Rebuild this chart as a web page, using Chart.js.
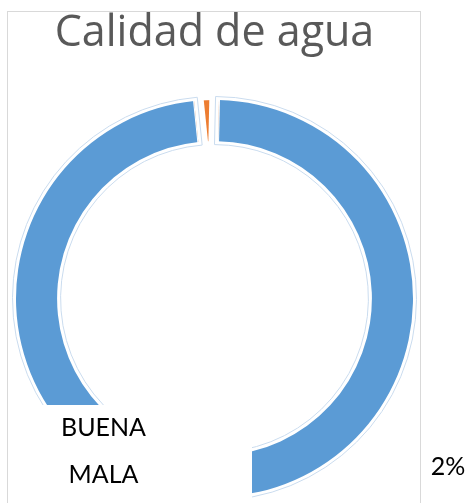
<!DOCTYPE html>
<html><head><meta charset="utf-8">
<script src="https://cdn.jsdelivr.net/npm/chart.js@4/dist/chart.umd.min.js"></script>
<style>html,body{margin:0;padding:0;background:#fff;overflow:hidden}canvas{display:block}</style>
</head><body>
<canvas id="c" width="469" height="503"></canvas>
<script>
// ---- data ----
const titleText = 'Calidad de agua';
const categories = ['BUENA', 'MALA'];
const values = [98, 2];
const percentLabelShown = [false, true];

// ---- styles ----
const sliceColors = ['#5B9BD5', '#ED7D31'];
const sliceGapPx = [1, 9.7];          // white inner gap at each radial edge
const haloColors = ['#cadcef', null]; // faint outline around slice

const framePlugin = {
  id: 'frame',
  beforeDraw(chart) {
    const ctx = chart.ctx;
    ctx.save();
    ctx.strokeStyle = '#d9d9d9';
    ctx.lineWidth = 1;
    ctx.strokeRect(7.5, 11.5, 413, 600);
    ctx.restore();
  }
};

const gapPlugin = {
  id: 'gaps',
  afterDatasetsDraw(chart) {
    const ctx = chart.ctx;
    const meta = chart.getDatasetMeta(0);
    ctx.save();
    meta.data.forEach((arc, i) => {
      const p = arc.getProps(['x','y','startAngle','endAngle','innerRadius','outerRadius'], true);
      const d = sliceGapPx[i];
      [[p.startAngle, 1], [p.endAngle, -1]].forEach(([t, s]) => {
        const ux = Math.cos(t), uy = Math.sin(t);
        const nx = -Math.sin(t) * s, ny = Math.cos(t) * s;
        const rIn = p.innerRadius - 2, rOut = p.outerRadius + 2;
        ctx.beginPath();
        ctx.moveTo(p.x + ux * rIn, p.y + uy * rIn);
        ctx.lineTo(p.x + ux * rOut, p.y + uy * rOut);
        ctx.lineTo(p.x + ux * rOut + nx * d, p.y + uy * rOut + ny * d);
        ctx.lineTo(p.x + ux * rIn + nx * d, p.y + uy * rIn + ny * d);
        ctx.closePath();
        ctx.fillStyle = '#ffffff';
        ctx.fill();
      });
    });
    // halos
    meta.data.forEach((arc, i) => {
      if (!haloColors[i]) return;
      const p = arc.getProps(['x','y','startAngle','endAngle','innerRadius','outerRadius'], true);
      const h = 3.5;
      const R = p.outerRadius + h, r = p.innerRadius - h;
      ctx.beginPath();
      ctx.arc(p.x, p.y, R, p.startAngle - h / R, p.endAngle + h / R);
      ctx.lineTo(p.x + Math.cos(p.endAngle + h / r) * r, p.y + Math.sin(p.endAngle + h / r) * r);
      ctx.arc(p.x, p.y, r, p.endAngle + h / r, p.startAngle - h / r, true);
      ctx.closePath();
      ctx.strokeStyle = haloColors[i];
      ctx.lineWidth = 1;
      ctx.stroke();
    });
    ctx.restore();
  }
};

const overlayPlugin = {
  id: 'overlay',
  afterDraw(chart) {
    const ctx = chart.ctx;
    ctx.save();
    // legend box (white, over the ring)
    ctx.fillStyle = '#ffffff';
    ctx.fillRect(9, 405, 243, 110);
    ctx.fillStyle = '#000000';
    ctx.font = '25px Lato';
    ctx.textAlign = 'center';
    ctx.textBaseline = 'alphabetic';
    categories.forEach((c, i) => {
      ctx.fillText(c, 103.5, 436 + i * 47);
    });
    // percentage label
    const total = values.reduce((a, b) => a + b, 0);
    values.forEach((v, i) => {
      if (!percentLabelShown[i]) return;
      ctx.fillText(Math.round(v / total * 100) + '%', 448, 475);
    });
    ctx.restore();
  }
};

function build() {
  new Chart(document.getElementById('c'), {
    type: 'doughnut',
    data: {
      labels: categories,
      datasets: [{
        data: values,
        backgroundColor: sliceColors,
        borderWidth: 0
      }]
    },
    options: {
      responsive: false,
      animation: false,
      devicePixelRatio: 1,
      rotation: 1.3,
      cutout: '79.3%',
      radius: 198.5,
      layout: { padding: { left: 16, right: 56, top: 0, bottom: 6 } },
      plugins: {
        legend: { display: false },
        tooltip: { enabled: false },
        title: {
          display: true,
          text: titleText,
          color: '#595959',
          font: { family: "'Open Sans'", size: 43, weight: 'normal', lineHeight: 1.2 },
          padding: { top: 8, bottom: 40.4 }
        }
      }
    },
    plugins: [framePlugin, gapPlugin, overlayPlugin]
  });
}
if (document.fonts && document.fonts.load) {
  Promise.all([document.fonts.load("43px 'Open Sans'"), document.fonts.load('25px Lato')]).then(build, build);
} else build();
</script>
</body></html>
